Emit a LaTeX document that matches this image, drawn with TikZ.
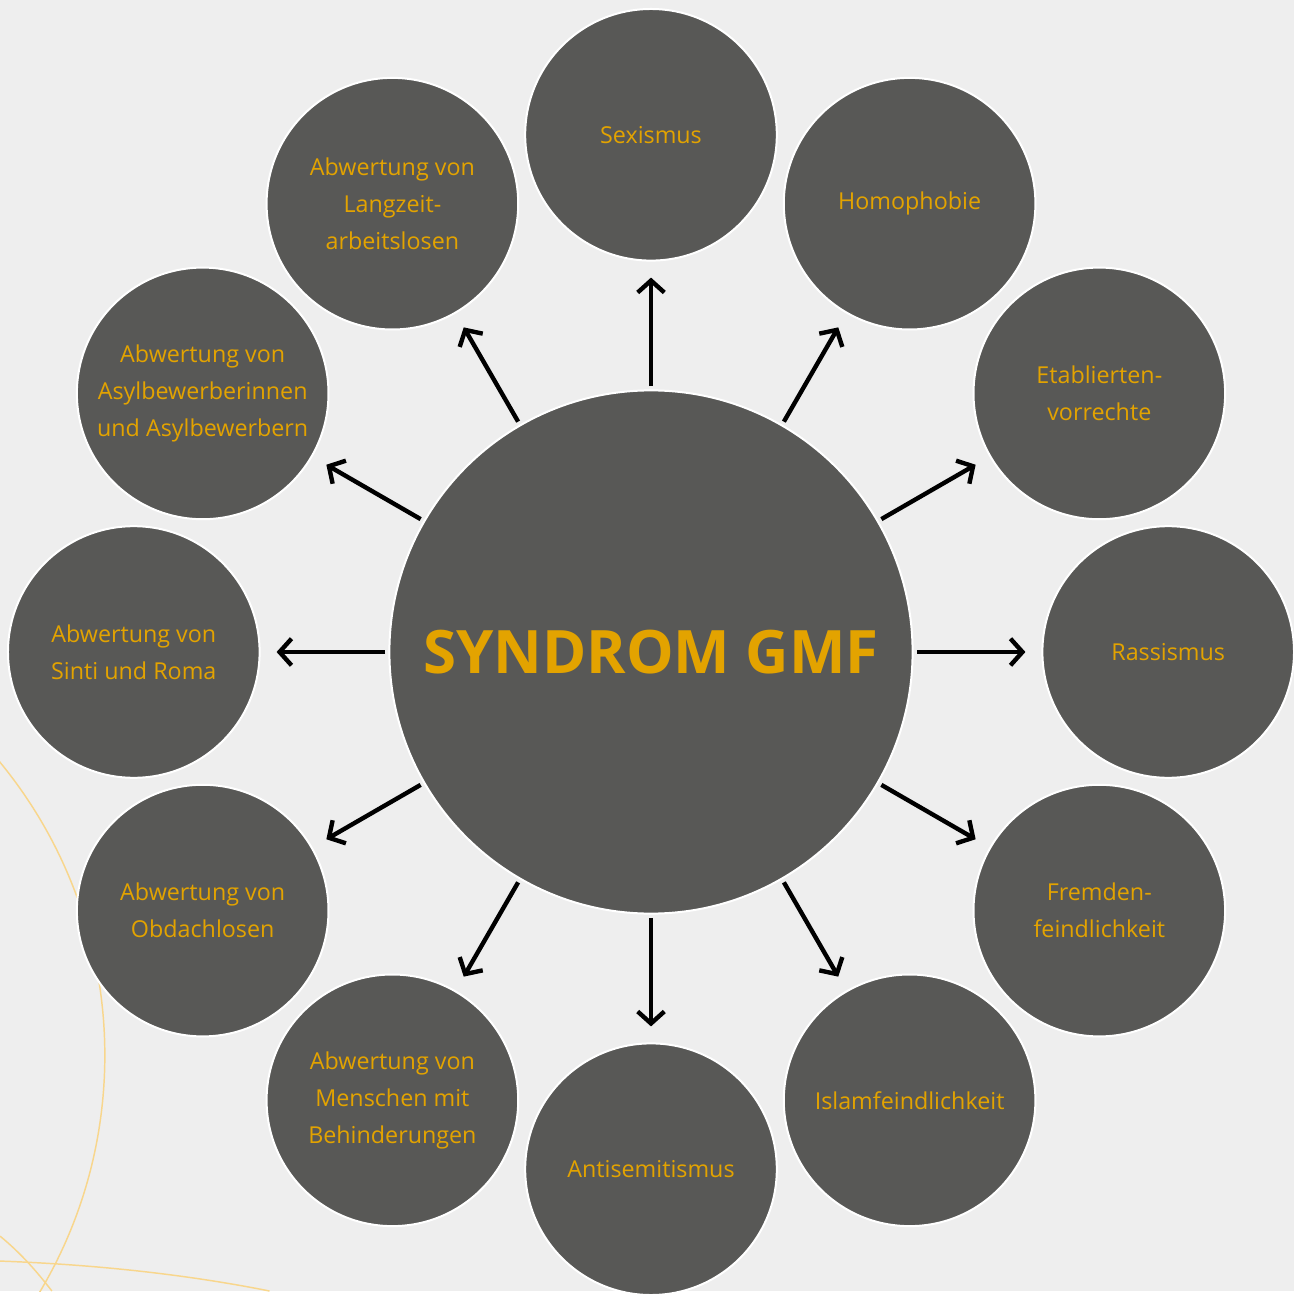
\documentclass[tikz,border=0pt]{standalone}
\usepackage{fontspec}
\setmainfont{Open Sans}
\usetikzlibrary{arrows.meta}
\definecolor{bgc}{HTML}{EEEEEE}
\definecolor{cgray}{HTML}{585856}
\definecolor{gold}{HTML}{E3A300}
\definecolor{pale}{HTML}{F8D68C}
\begin{document}
\begin{tikzpicture}[x=0.75pt,y=-0.75pt,
  sat/.style={circle,fill=cgray,draw=white,line width=1.5pt,minimum size=189pt,inner sep=0pt,align=center,text=gold,font=\fontsize{17.5}{27.75}\selectfont},
  hub/.style={circle,fill=cgray,draw=white,line width=1.5pt,minimum size=393pt,inner sep=0pt,text=gold,font=\bfseries\fontsize{45}{54}\selectfont},
  arr/.style={-{Straight Barb[length=9pt,width=20pt]},line width=3.3pt,black,shorten <=2.5pt,shorten >=12pt},
  deco/.style={draw=pale,line width=1.1pt}]
\fill[bgc] (0,0) rectangle (1296,1293);
\begin{scope}
\clip (0,0) rectangle (1296,1293);
\draw[deco] (-358,1057) circle[radius=463];
\draw[deco] (0,1238) .. controls (22,1256) and (38,1275) .. (52,1293);
\draw[deco] (0,1263) .. controls (110,1267) and (200,1279) .. (270,1293);
\end{scope}
\node[hub] (c) at (652,653) {SYNDROM GMF};
\node[sat] (s1) at (652,135) {Sexismus};
\node[sat] (s2) at (911,204) {Homophobie};
\node[sat] (s3) at (1101,394) {Etablierten-\\vorrechte};
\node[sat] (s4) at (1170,653) {Rassismus};
\node[sat] (s5) at (1101,912) {Fremden-\\feindlichkeit};
\node[sat] (s6) at (911,1102) {Islamfeindlichkeit};
\node[sat] (s7) at (652,1171) {Antisemitismus};
\node[sat] (s8) at (393,1102) {Abwertung von\\Menschen mit\\Behinderungen};
\node[sat] (s9) at (203,912) {Abwertung von\\Obdachlosen};
\node[sat] (s10) at (134,653) {Abwertung von\\Sinti und Roma};
\node[sat] (s11) at (203,394) {Abwertung von\\Asylbewerberinnen\\und Asylbewerbern};
\node[sat] (s12) at (393,204) {Abwertung von\\Langzeit-\\arbeitslosen};
\foreach \i in {1,...,12} {\draw[arr] (c) -- (s\i);}
\end{tikzpicture}
\end{document}
